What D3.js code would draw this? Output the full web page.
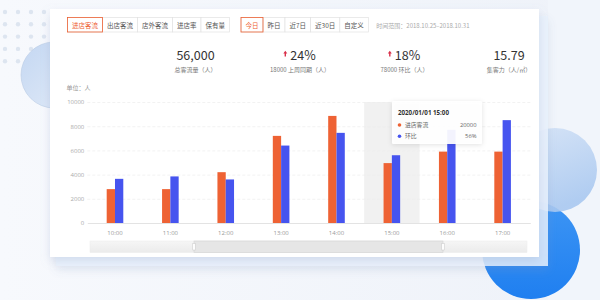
<!DOCTYPE html>
<html>
<head>
<meta charset="utf-8">
<script src="https://cdn.jsdelivr.net/npm/d3@7"></script>
<style>
  html, body { margin: 0; padding: 0; background: #f3f6fb; }
  svg { display: block; font-family: "Noto Sans CJK SC", "Noto Sans", sans-serif; }
</style>
</head>
<body>
<svg width="600" height="300"></svg>
<script>
// chart data
const hours = ["10:00", "11:00", "12:00", "13:00", "14:00", "15:00", "16:00", "17:00"];
const inFlow = [2800, 2800, 4200, 7200, 8850, 4950, 5900, 5900];
const ratio = [3650, 3850, 3600, 6400, 7450, 5600, 7700, 8500];
const yTicks = [0, 2000, 4000, 6000, 8000, 10000];

const flowTabs = ["进店客流", "出店客流", "店外客流", "进店率", "保有量"];
const dateTabs = ["今日", "昨日", "近7日", "近30日", "自定义"];
const rangeText = "时间范围：2018.10.25–2018.10.31";

const kpiValues = ["56,000", "24%", "18%", "15.79"];
const kpiLabels = ["总客流量（人）", "18000  上周同期（人）", "78000  环比（人）", "集客力（人/㎡）"];
const kpiUp = [false, true, true, false];

const tipTitle = "2020/01/01 15:00";
const tipRows = [["进店客流", "20000"], ["环比", "56%"]];
const focusHour = "15:00";

const ORANGE = "#ee6234", BLUE = "#4654ef";

const svg = d3.select("svg");
const defs = svg.append("defs");

// background decoration
const bgGrad = defs.append("linearGradient").attr("id", "bg").attr("x1", 0).attr("x2", 1);
bgGrad.append("stop").attr("offset", 0).attr("stop-color", "#f7f9fd");
bgGrad.append("stop").attr("offset", 1).attr("stop-color", "#eef2f9");
svg.append("rect").attr("width", 600).attr("height", 300).attr("fill", "url(#bg)");

svg.append("rect").attr("x", 548).attr("y", 0).attr("width", 52).attr("height", 300)
  .attr("fill", "#f1f5fb");

// dots top-left
const dotG = svg.append("g");
d3.range(5).forEach(r => d3.range(4).forEach(c => {
  dotG.append("circle").attr("cx", 5 + c * 13).attr("cy", 12 + r * 12.3).attr("r", 2.2)
    .attr("fill", "#dde5f0");
}));

const lc = defs.append("linearGradient").attr("id", "lc").attr("x1", 0).attr("y1", 0).attr("x2", 1).attr("y2", 1);
lc.append("stop").attr("offset", 0).attr("stop-color", "#c4d7f2");
lc.append("stop").attr("offset", 1).attr("stop-color", "#e3ecf8");
svg.append("circle").attr("cx", 54).attr("cy", 75).attr("r", 33).attr("fill", "url(#lc)")
  .attr("stroke", "#b9cbe4").attr("stroke-width", 0.6);

// right side circles
const bc = defs.append("linearGradient").attr("id", "bc").attr("x1", 0).attr("y1", 0).attr("x2", 0).attr("y2", 1);
bc.append("stop").attr("offset", 0).attr("stop-color", "#3d95f4");
bc.append("stop").attr("offset", 1).attr("stop-color", "#1f7ff0");
svg.append("circle").attr("cx", 531).attr("cy", 250).attr("r", 49).attr("fill", "url(#bc)");

const rc = defs.append("linearGradient").attr("id", "rc").attr("x1", 0).attr("y1", 0).attr("x2", 0.4).attr("y2", 1);
rc.append("stop").attr("offset", 0).attr("stop-color", "#d5e3f6");
rc.append("stop").attr("offset", 1).attr("stop-color", "#a9c8f0");
svg.append("circle").attr("cx", 555).attr("cy", 170).attr("r", 42).attr("fill", "url(#rc)").attr("opacity", 0.9);

// card backing panel and card
const sh = defs.append("filter").attr("id", "sh").attr("x", -0.1).attr("y", -0.1).attr("width", 1.2).attr("height", 1.3);
sh.append("feDropShadow").attr("dx", 0).attr("dy", 4).attr("stdDeviation", 5)
  .attr("flood-color", "#8a9cc0").attr("flood-opacity", 0.25);

svg.append("rect").attr("x", 56).attr("y", 16).attr("width", 492).attr("height", 250)
  .attr("fill", "#e9f1fc").attr("opacity", 0.85).attr("filter", "url(#sh)");
svg.append("rect").attr("x", 50).attr("y", 9).attr("width", 489).attr("height", 248)
  .attr("fill", "#fff").attr("filter", "url(#sh)");

// tab buttons
function tabGroup(labels, x0, active) {
  const g = svg.append("g");
  let x = x0;
  labels.forEach((t, i) => {
    const tx = g.append("text").attr("y", 27.5).attr("font-size", 6.5)
      .attr("fill", i === active ? ORANGE : "#555").text(t);
    const w = tx.node().getComputedTextLength() + 9;
    tx.attr("x", x + w / 2).attr("text-anchor", "middle");
    g.insert("rect", "text").attr("x", x).attr("y", 17.5).attr("width", w).attr("height", 14.5)
      .attr("fill", "#fff").attr("stroke", "#e2e2e2").attr("stroke-width", 0.7);
    if (i === active) {
      g.append("rect").attr("x", x).attr("y", 17.5).attr("width", w).attr("height", 14.5)
        .attr("fill", "none").attr("stroke", ORANGE).attr("stroke-width", 0.8);
    }
    x += w;
  });
  return x;
}
tabGroup(flowTabs, 67.5, 0);
const endX = tabGroup(dateTabs, 241, 0);
svg.append("text").attr("x", endX + 8).attr("y", 27.5).attr("font-size", 6)
  .attr("fill", "#aaa").text(rangeText);

// KPI row
const kx = d3.scalePoint().domain(d3.range(kpiValues.length)).range([195.5, 509]);
kpiValues.forEach((v, i) => {
  const g = svg.append("g").attr("transform", `translate(${kx(i)},0)`);
  const vt = g.append("text").attr("y", 60).attr("text-anchor", "middle")
    .attr("font-size", 12.5).attr("fill", "#333").text(v);
  if (kpiUp[i]) {
    const w = vt.node().getComputedTextLength();
    vt.attr("x", 3);
    g.append("path").attr("transform", `translate(${3 - w / 2 - 5},54)`)
      .attr("d", "M0,-3.2 L2,-0.6 L0.7,-0.6 L0.7,2.6 L-0.7,2.6 L-0.7,-0.6 L-2,-0.6 Z")
      .attr("fill", "#d9304a");
  }
  g.append("text").attr("y", 72).attr("text-anchor", "middle").attr("font-size", 6)
    .attr("fill", "#777").text(kpiLabels[i]);
});

svg.append("text").attr("x", 66.5).attr("y", 90).attr("font-size", 6)
  .attr("fill", "#999").text("单位：人");

// chart
const x = d3.scaleBand().domain(hours).range([87.3, 530.3]);
const y = d3.scaleLinear().domain([0, 10000]).range([223, 102]);
const barW = 8.3;

// hover shadow
svg.append("rect").attr("x", x(focusHour)).attr("y", y(10000)).attr("width", x.bandwidth())
  .attr("height", y(0) - y(10000)).attr("fill", "#f1f1f1");

const yAxis = svg.append("g").attr("transform", "translate(87.3,0)")
  .call(d3.axisLeft(y).tickValues(yTicks).tickSize(-(530.3 - 87.3)).tickPadding(3).tickFormat(d3.format("d")));
yAxis.select(".domain").remove();
yAxis.selectAll(".tick line").attr("stroke", "#ececec").attr("stroke-dasharray", "3,2")
  .attr("stroke-width", 0.7);
yAxis.selectAll(".tick text").attr("fill", "#aaa").attr("font-size", 6)
  .attr("font-family", "'Open Sans', sans-serif");
yAxis.selectAll(".tick").filter(d => d === 0).select("line").remove();

const xAxis = svg.append("g").attr("transform", `translate(0,${y(0)})`)
  .call(d3.axisBottom(x).tickSize(0).tickPadding(8));
xAxis.select(".domain").attr("stroke", "#dcdcdc").attr("stroke-width", 0.8);
xAxis.selectAll(".tick text").attr("fill", "#999").attr("font-size", 6)
  .attr("font-family", "'Open Sans', sans-serif");

const bars = svg.append("g");
bars.selectAll(".in").data(hours).join("rect")
  .attr("x", d => x(d) + x.bandwidth() / 2 - barW)
  .attr("y", (d, i) => y(inFlow[i])).attr("width", barW)
  .attr("height", (d, i) => y(0) - y(inFlow[i])).attr("fill", ORANGE);
bars.selectAll(".ratio").data(hours).join("rect")
  .attr("x", d => x(d) + x.bandwidth() / 2)
  .attr("y", (d, i) => y(ratio[i])).attr("width", barW)
  .attr("height", (d, i) => y(0) - y(ratio[i])).attr("fill", BLUE);

// data zoom slider
const sl = svg.append("g");
const trk = defs.append("linearGradient").attr("id", "trk").attr("x1", 0).attr("y1", 0).attr("x2", 0).attr("y2", 1);
trk.append("stop").attr("offset", 0).attr("stop-color", "#f6f6f6");
trk.append("stop").attr("offset", 1).attr("stop-color", "#ebebeb");
sl.append("rect").attr("x", 90).attr("y", 241).attr("width", 437).attr("height", 11.5)
  .attr("fill", "url(#trk)").attr("stroke", "#ececec").attr("stroke-width", 0.5);
sl.append("rect").attr("x", 194).attr("y", 241).attr("width", 249).attr("height", 11.5)
  .attr("fill", "#e6e6e6").attr("stroke", "#d4d4d4").attr("stroke-width", 0.6);
[194, 443].forEach(hx => {
  sl.append("rect").attr("x", hx - 1.2).attr("y", 243.5).attr("width", 2.4).attr("height", 6.5)
    .attr("fill", "#fff").attr("stroke", "#c8c8c8").attr("stroke-width", 0.5);
});

// tooltip
const tf = defs.append("filter").attr("id", "tf").attr("x", -0.2).attr("y", -0.3).attr("width", 1.4).attr("height", 1.6);
tf.append("feDropShadow").attr("dx", 0).attr("dy", 1).attr("stdDeviation", 2.5)
  .attr("flood-color", "#000").attr("flood-opacity", 0.12);
const tip = svg.append("g").attr("transform", "translate(392,101)");
tip.append("rect").attr("width", 90).attr("height", 43).attr("rx", 1.5)
  .attr("fill", "#fff").attr("fill-opacity", 0.93).attr("filter", "url(#tf)");
tip.append("text").attr("x", 6).attr("y", 14).attr("font-size", 6.2).attr("font-weight", "bold")
  .attr("fill", "#333").attr("font-family", "'Open Sans', sans-serif").text(tipTitle);
tipRows.forEach((r, i) => {
  const yy = 26 + i * 11.3;
  tip.append("circle").attr("cx", 7.5).attr("cy", yy - 2).attr("r", 1.8).attr("fill", [ORANGE, BLUE][i]);
  tip.append("text").attr("x", 13).attr("y", yy).attr("font-size", 5.8).attr("fill", "#666").text(r[0]);
  tip.append("text").attr("x", 84.5).attr("y", yy).attr("text-anchor", "end").attr("font-size", 5.8)
    .attr("fill", "#666").attr("font-family", "'Open Sans', sans-serif").text(r[1]);
});
</script>
</body>
</html>
